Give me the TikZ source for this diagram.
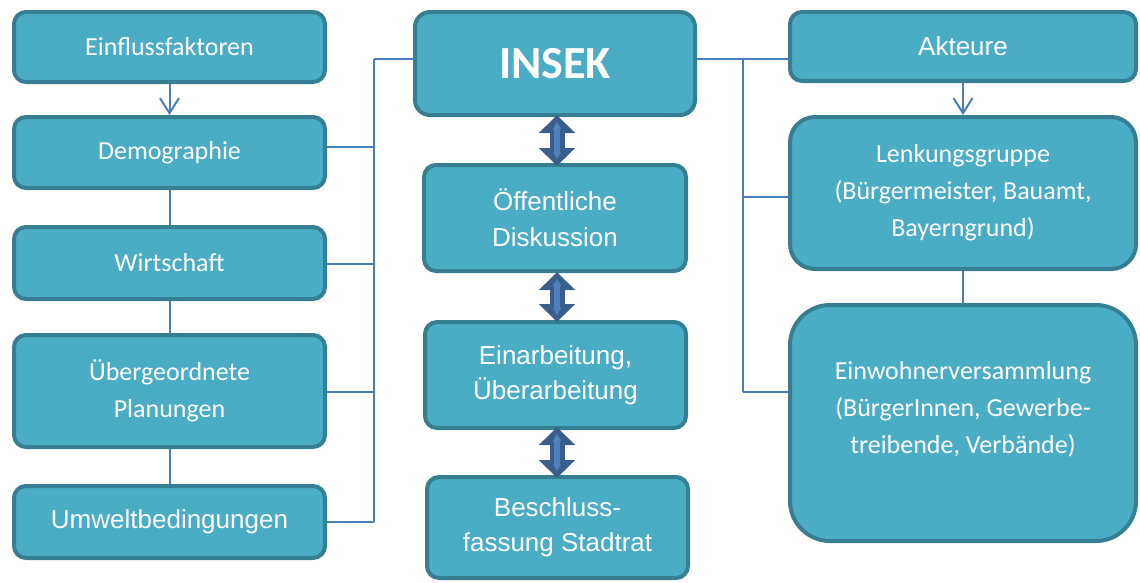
\documentclass[tikz,border=0pt]{standalone}
\usepackage{fontspec}
\setmainfont{Carlito}
\newfontfamily\arialf{Liberation Sans}
\usetikzlibrary{arrows.meta,calc}
\definecolor{boxfill}{HTML}{4BACC6}
\definecolor{boxline}{HTML}{367E92}
\definecolor{conn}{HTML}{4A7EBB}
\definecolor{arrdark}{HTML}{3A5E8C}
\definecolor{arrlight}{HTML}{4F81BD}
\begin{document}
\begin{tikzpicture}[x=1pt,y=-1pt,
  box/.style={draw=boxline, fill=boxfill, line width=4pt, rounded corners=12pt,
    text=white, align=center, inner sep=0pt, font=\fontsize{26}{37}\selectfont},
  btext/.style={text=white, align=center, inner sep=0pt, font=\fontsize{26}{37}\selectfont},
  conline/.style={draw=conn, line width=2pt},
  openarrow/.style={conline, -{Straight Barb[length=15pt,width=19pt]}},
  dblouter/.style={draw=arrdark, line width=15pt,
    {Triangle[length=18pt,width=35pt]}-{Triangle[length=18pt,width=35pt]}},
  dblinner/.style={draw=arrlight, line width=6pt, shorten <=7pt, shorten >=7pt,
    {Triangle[length=7pt,width=8pt]}-{Triangle[length=7pt,width=8pt]}}]
\useasboundingbox (0,0) rectangle (1140,582);

% left column
\node[box, minimum width=311, minimum height=70] (einfl) at (169.5,47) {Einflussfaktoren};
\node[box, minimum width=311, minimum height=71] (demo) at (169.5,152.5) {Demographie};
\node[box, minimum width=311, minimum height=72] (wirt) at (169.5,263) {Wirtschaft};
\node[box, minimum width=311, minimum height=112] (ueber) at (169.5,391) {Übergeordnete\\Planungen};
\node[box, minimum width=311, minimum height=72, font=\arialf\fontsize{26}{37}\selectfont] (umw) at (169.5,522) {Umweltbedingungen};

% middle column
\node[box, minimum width=280, minimum height=103, rounded corners=15pt,
  font=\bfseries\fontsize{46}{50}\selectfont] (insek) at (555,63.5) {INSEK};
\node[box, minimum width=262, minimum height=106, font=\arialf\fontsize{26}{36}\selectfont] (oeff) at (555,218) {Öffentliche\\Diskussion};
\node[box, minimum width=261, minimum height=106, font=\arialf\fontsize{26}{35}\selectfont] (einarb) at (555.5,375) {Einarbeitung,\\Überarbeitung};
\node[box, minimum width=261, minimum height=101, font=\arialf\fontsize{26}{35}\selectfont] (besch) at (557.5,527.5) {Beschluss-\\fassung Stadtrat};

% right column
\node[box, minimum width=346, minimum height=69, font=\arialf\fontsize{26}{37}\selectfont] (akt) at (963,46.5) {Akteure};
\node[box, minimum width=346, minimum height=152, rounded corners=25pt] (lenk) at (963,193) {Lenkungsgruppe\\(Bürgermeister, Bauamt,\\Bayerngrund)};
\node[box, minimum width=346, minimum height=236, rounded corners=40pt] (ew) at (963,423) {};
\node[btext] (ewt) at (963,409) {Einwohnerversammlung\\(BürgerInnen, Gewerbe-\\treibende, Verbände)};

% helper coordinates for bus lines
\coordinate (ytop) at (0,59);
\coordinate (ydemo) at (0,147);
\coordinate (ywirt) at (0,264);
\coordinate (yueber) at (0,392);
\coordinate (yumw) at (0,522);
\coordinate (ylenk) at (0,197);
\coordinate (yew) at (0,392);
\coordinate (lbus) at (374,59);
\coordinate (lbusend) at (374,522);
\coordinate (rbus) at (743,59);
\coordinate (rbusend) at (743,392);

% left chain
\draw[openarrow] (einfl.south) -- (demo.north);
\draw[conline] (demo.south) -- (wirt.north);
\draw[conline] (wirt.south) -- (ueber.north);
\draw[conline] (ueber.south) -- (umw.north);

% left bus
\draw[conline] (lbus) -- (insek.west |- ytop);
\draw[conline] (lbus) -- (lbusend);
\draw[conline] (demo.east |- ydemo) -- (lbus |- ydemo);
\draw[conline] (wirt.east |- ywirt) -- (lbus |- ywirt);
\draw[conline] (ueber.east |- yueber) -- (lbus |- yueber);
\draw[conline] (umw.east |- yumw) -- (lbusend);

% right bus
\draw[conline] (insek.east |- ytop) -- (akt.west |- ytop);
\draw[conline] (rbus) -- (rbusend);
\draw[conline] (rbus |- ylenk) -- (lenk.west |- ylenk);
\draw[conline] (rbusend) -- (ew.west |- yew);

% right chain
\draw[openarrow] (akt.south) -- (lenk.north);
\draw[conline] (lenk.south) -- (ew.north);

% double arrows
\draw[dblouter] ([xshift=2pt,yshift=2pt]insek.south) -- ([xshift=2pt,yshift=-3pt]oeff.north);
\draw[dblinner] ([xshift=2pt,yshift=2pt]insek.south) -- ([xshift=2pt,yshift=-3pt]oeff.north);
\draw[dblouter] ([xshift=2pt,yshift=1pt]oeff.south) -- ([xshift=1.5pt,yshift=-2pt]einarb.north);
\draw[dblinner] ([xshift=2pt,yshift=1pt]oeff.south) -- ([xshift=1.5pt,yshift=-2pt]einarb.north);
\draw[dblouter] ([xshift=1.5pt,yshift=3pt]einarb.south) -- ([xshift=-0.5pt,yshift=-3pt]besch.north);
\draw[dblinner] ([xshift=1.5pt,yshift=3pt]einarb.south) -- ([xshift=-0.5pt,yshift=-3pt]besch.north);
\end{tikzpicture}
\end{document}
